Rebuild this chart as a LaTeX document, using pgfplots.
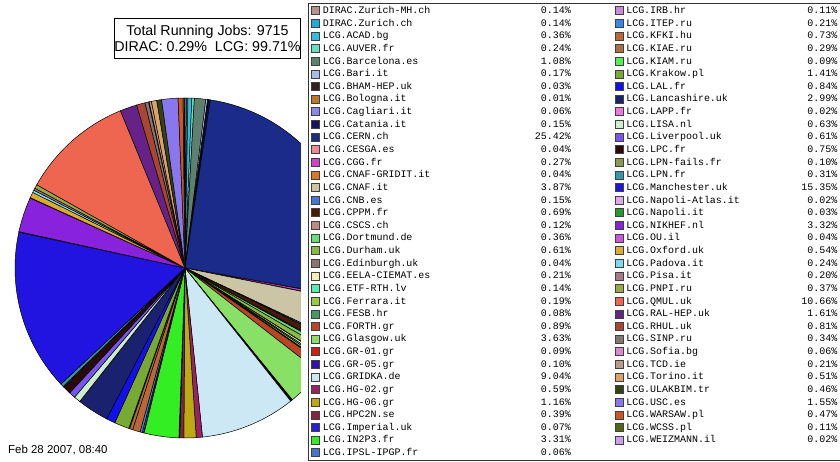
\documentclass[border=0pt]{standalone}
\usepackage{pgfplots}
\pgfplotsset{compat=1.18}
\usepackage{pgfplotstable}
\usepackage{fontspec}
\setmainfont{Liberation Sans}
\newfontfamily\monofont{Liberation Mono}

% site, share of running jobs (%), colour
\pgfplotstableread{
name pct col
DIRAC.Zurich-MH.ch 0.14 BC8F8F
DIRAC.Zurich.ch 0.14 22AADD
LCG.ACAD.bg 0.36 33BBE0
LCG.AUVER.fr 0.24 66DDBB
LCG.Barcelona.es 1.08 5F7F6F
LCG.Bari.it 0.17 AABBEE
LCG.BHAM-HEP.uk 0.03 332222
LCG.Bologna.it 0.01 BB7722
LCG.Cagliari.it 0.06 8888EE
LCG.Catania.it 0.15 151560
LCG.CERN.ch 25.42 1A2B8A
LCG.CESGA.es 0.04 EE8899
LCG.CGG.fr 0.27 CC44CC
LCG.CNAF-GRIDIT.it 0.04 DD7722
LCG.CNAF.it 3.87 CCC5A5
LCG.CNB.es 0.15 4477DD
LCG.CPPM.fr 0.69 4A1A08
LCG.CSCS.ch 0.12 C08880
LCG.Dortmund.de 0.36 66DD77
LCG.Durham.uk 0.61 88BB44
LCG.Edinburgh.uk 0.04 8A7570
LCG.EELA-CIEMAT.es 0.21 F5F0B0
LCG.ETF-RTH.lv 0.14 55EEAA
LCG.Ferrara.it 0.19 99CC44
LCG.FESB.hr 0.08 449966
LCG.FORTH.gr 0.89 BB4422
LCG.Glasgow.uk 3.63 88E066
LCG.GR-01.gr 0.09 CC2211
LCG.GR-05.gr 0.10 3311AA
LCG.GRIDKA.de 9.04 CCE8F5
LCG.HG-02.gr 0.59 992266
LCG.HG-06.gr 1.16 BBAA11
LCG.HPC2N.se 0.39 882244
LCG.Imperial.uk 0.07 2222DD
LCG.IN2P3.fr 3.31 33EE22
LCG.IPSL-IPGP.fr 0.06 4477CC
LCG.IRB.hr 0.11 CC88DD
LCG.ITEP.ru 0.21 3388EE
LCG.KFKI.hu 0.73 BB6633
LCG.KIAE.ru 0.29 AA7040
LCG.KIAM.ru 0.09 55EE55
LCG.Krakow.pl 1.41 77AA33
LCG.LAL.fr 0.84 1111EE
LCG.Lancashire.uk 2.99 1A2270
LCG.LAPP.fr 0.02 EE77DD
LCG.LISA.nl 0.63 CCEECC
LCG.Liverpool.uk 0.61 7755EE
LCG.LPC.fr 0.75 2A0A0A
LCG.LPN-fails.fr 0.10 8A9955
LCG.LPN.fr 0.31 3399AA
LCG.Manchester.uk 15.35 2214E0
LCG.Napoli-Atlas.it 0.02 DDAAEE
LCG.Napoli.it 0.03 229933
LCG.NIKHEF.nl 3.32 8822DD
LCG.OU.il 0.04 CC55DD
LCG.Oxford.uk 0.54 DDAA33
LCG.Padova.it 0.24 77DDEE
LCG.Pisa.it 0.20 AA7788
LCG.PNPI.ru 0.37 99AA44
LCG.QMUL.uk 10.66 EE6650
LCG.RAL-HEP.uk 1.61 662288
LCG.RHUL.uk 0.81 AA4433
LCG.SINP.ru 0.34 807870
LCG.Sofia.bg 0.06 DD88CC
LCG.TCD.ie 0.21 BB9988
LCG.Torino.it 0.51 DDA066
LCG.ULAKBIM.tr 0.46 334411
LCG.USC.es 1.55 8877EE
LCG.WARSAW.pl 0.47 CC5522
LCG.WCSS.pl 0.11 556611
LCG.WEIZMANN.il 0.02 CCA0EE
}\sites

% legend entry for row #1 of the table
\newcommand\addsite[1]{%
  \pgfplotstablegetelem{#1}{name}\of\sites \let\nm\pgfplotsretval
  \pgfplotstablegetelem{#1}{pct}\of\sites \let\p\pgfplotsretval
  \ifnum#1<36 \def\w{248bp}\else\def\w{211bp}\fi
  \edef\tmp{\noexpand\addlegendimage{legend image code/.code={\noexpand\draw[fill=slice#1,draw=black!75,line width=0.5bp] (0bp,-4bp) rectangle (8bp,4bp);}}%
    \noexpand\addlegendentry{\noexpand\makebox[\w]{\nm\noexpand\hfill\p\noexpand\%}}}%
  \tmp}

\begin{document}
\begin{tikzpicture}
\useasboundingbox (0,0) rectangle (840bp,462bp);

\pgfplotsforeachungrouped \i in {0,...,70}{%
  \pgfplotstablegetelem{\i}{col}\of\sites
  \edef\tmp{\noexpand\definecolor{slice\i}{HTML}{\pgfplotsretval}}\tmp}

\node[draw=black, line width=0.7bp, minimum width=179bp, minimum height=40bp,
      inner sep=0pt, align=center, font=\fontsize{14.3}{16}\selectfont]
  at (207.5bp,424bp) {Total Running Jobs: 9715\\DIRAC: 0.29\%~ LCG: 99.71\%};
\node[anchor=base west, inner sep=0pt, font=\fontsize{11.5}{12}\selectfont]
  at (8bp,9bp) {Feb 28 2007, 08:40};

\begin{axis}[
  at={(185bp,194bp)}, anchor=origin,
  x=170bp, y=170bp,
  xmin=-1.05, xmax=0.682, ymin=-1.05, ymax=1.05,
  hide axis,
  legend columns=2,
  legend cell align=left,
  legend style={
    at={(1.0238,1.2423)}, anchor=north west,
    draw=black!80, line width=0.7bp,
    inner xsep=3bp, inner ysep=1bp,
    font=\monofont\fontsize{10}{12}\selectfont,
    nodes={inner sep=0pt, text height=9.2bp, text depth=3.43bp},
    row sep=0pt,
    /tikz/every odd column/.append style={column sep=3bp},
    /tikz/every even column/.append style={column sep=44bp},
  },
]
\xdef\cum{0}
\pgfplotsforeachungrouped \i in {0,...,70}{%
  \pgfplotstablegetelem{\i}{pct}\of\sites \let\p\pgfplotsretval
  \pgfmathsetmacro\aone{90-3.6*\cum}
  \pgfmathsetmacro\cum{\cum+\p}
  \pgfmathsetmacro\atwo{90-3.6*\cum}
  \pgfmathtruncatemacro\ns{max(2,ceil(1.8*\p)+1)}
  \edef\tmp{\noexpand\addplot[fill=slice\i, draw=black, line width=0.5bp,
    domain=\atwo:\aone, samples=\ns, forget plot]
    ({cos(x)},{sin(x)}) -- (0,0) -- cycle;}%
  \tmp}
% legend fills column by column: left 36 sites, right 35
\pgfplotsforeachungrouped \i in {0,...,35}{%
  \pgfmathtruncatemacro\j{\i+36}%
  \addsite{\i}%
  \ifnum\j<71 \addsite{\j}\fi}
\end{axis}
\end{tikzpicture}
\end{document}
